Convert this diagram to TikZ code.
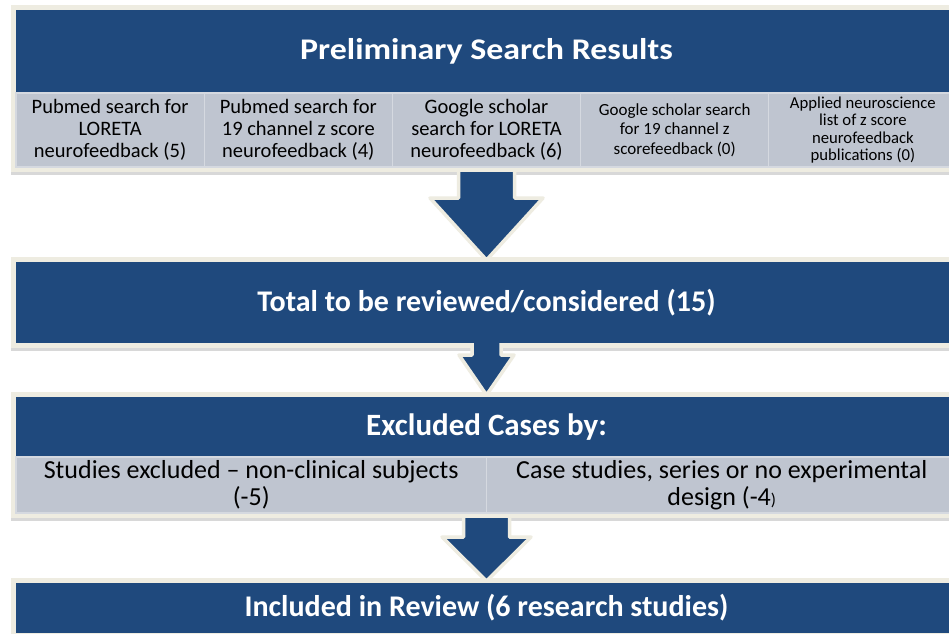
\documentclass[tikz,border=0pt]{standalone}
\usepackage{fontspec}
\usepackage{graphicx}
\setmainfont{Carlito}
\usetikzlibrary{positioning,fit,backgrounds,shadows,calc}
\definecolor{navy}{HTML}{1F497D}
\definecolor{cream}{HTML}{EEECE1}
\definecolor{cellgray}{HTML}{BFC5D0}
\definecolor{cellline}{HTML}{D5D9E0}
\tikzset{
  titlebar/.style={fill=navy, text=white, minimum width=941pt, inner sep=0pt, outer sep=0pt},
  cell/.style={fill=cellgray, draw=cellline, line width=1.2pt, align=center, inner sep=0pt, outer sep=0pt},
  frame/.style={fill=cream, inner sep=5pt, drop shadow={shadow xshift=0pt, shadow yshift=-2.5pt, opacity=0.3}},
  arrowbody/.style={fill=navy, draw=cream, line width=3.5pt, line join=round}
}
% block arrow: from, to, shaft half width, head half width, head length
\newcommand{\flowarrow}[5]{%
  \filldraw[arrowbody] let \p1=(#1.south), \p2=(#2.north) in
    (\x1-#3,\y1) -- (\x1-#3,\y2+#5) -- (\x1-#4,\y2+#5) -- (\x1,\y2+2pt)
    -- (\x1+#4,\y2+#5) -- (\x1+#3,\y2+#5) -- (\x1+#3,\y1);
}
\begin{document}
\begin{tikzpicture}[x=1pt,y=-1pt]
  \useasboundingbox (0,0) rectangle (949,633);
  \clip (0,0) rectangle (949,633);
  % search results
  \node[titlebar, minimum height=83pt, font=\fontsize{30}{36}\selectfont\bfseries] (prelim) at (486.5,51.5) {\scalebox{1.13}[1]{Preliminary Search Results}};
  \node[cell, minimum width=188.2pt, minimum height=74pt, anchor=north west, font=\fontsize{20.5}{22}\selectfont] (c1) at (prelim.south west) {Pubmed search for\\LORETA\\neurofeedback (5)};
  \node[cell, minimum width=188.2pt, minimum height=74pt, right=0pt of c1, font=\fontsize{20.5}{22}\selectfont] (c2) {Pubmed search for\\19 channel z score\\neurofeedback (4)};
  \node[cell, minimum width=188.2pt, minimum height=74pt, right=0pt of c2, font=\fontsize{20.5}{22}\selectfont] (c3) {Google scholar\\search for LORETA\\neurofeedback (6)};
  \node[cell, minimum width=188.2pt, minimum height=74pt, right=0pt of c3, font=\fontsize{17}{19.5}\selectfont] (c4) {Google scholar search\\for 19 channel z\\scorefeedback (0)};
  \node[cell, minimum width=188.2pt, minimum height=74pt, right=0pt of c4, font=\fontsize{16.7}{17.5}\selectfont] (c5) {Applied neuroscience\\list of z score\\neurofeedback\\publications (0)};
  % total
  \node[titlebar, minimum height=81pt, font=\fontsize{30}{36}\selectfont\bfseries] (total) at (486.5,302.5) {Total to be reviewed/considered (15)};
  % exclusions
  \node[titlebar, minimum height=60pt, font=\fontsize{31}{36}\selectfont\bfseries] (excl) at (486.5,427) {Excluded Cases by:};
  \node[cell, minimum width=470.5pt, minimum height=56pt, anchor=north west, font=\fontsize{26}{27}\selectfont] (e1) at (excl.south west) {Studies excluded -- non-clinical subjects\\(-5)};
  \node[cell, minimum width=470.5pt, minimum height=56pt, right=0pt of e1, font=\fontsize{26}{27}\selectfont] (e2) {Case studies, series or no experimental\\design (-4{\fontsize{17}{17}\selectfont)}};
  % included
  \node[titlebar, minimum height=50pt, font=\fontsize{30}{36}\selectfont\bfseries] (incl) at (486.5,608) {Included in Review (6 research studies)};
  % cream frames
  \begin{scope}[on background layer]
    \fill[white] (0,0) rectangle (949,633);
    \node[frame, fit=(prelim)(c1)(c5)] (frame1) {};
    \node[frame, fit=(total)] (frame2) {};
    \node[frame, fit=(excl)(e1)(e2)] (frame3) {};
    \node[frame, fit=(incl)] (frame4) {};
  \end{scope}
  % arrows
  \flowarrow{frame1}{total}{28pt}{56.5pt}{64pt}
  \flowarrow{total}{excl}{14.5pt}{27.5pt}{42pt}
  \flowarrow{frame3}{incl}{23pt}{44.5pt}{46pt}
\end{tikzpicture}
\end{document}
